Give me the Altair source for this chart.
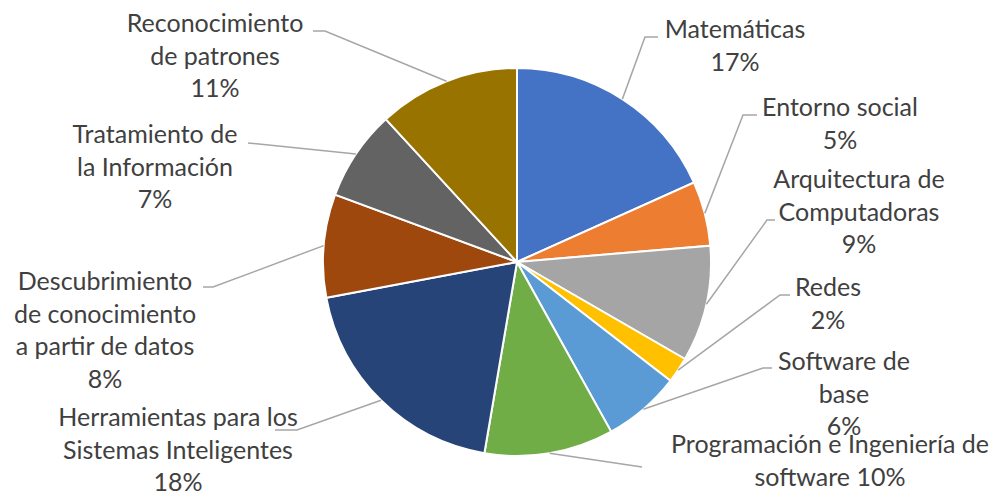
import math
import altair as alt
import pandas as pd

# ---------------- data ----------------
categories = [
    "Matemáticas",
    "Entorno social",
    "Arquitectura de Computadoras",
    "Redes",
    "Software de base",
    "Programación e Ingeniería de software",
    "Herramientas para los Sistemas Inteligentes",
    "Descubrimiento de conocimiento a partir de datos",
    "Tratamiento de la Información",
    "Reconocimiento de patrones",
]
values = [17, 5, 9, 2, 6, 10, 18, 8, 7, 11]
label_templates = [
    ["Matemáticas", "{p}%"],
    ["Entorno social", "{p}%"],
    ["Arquitectura de", "Computadoras", "{p}%"],
    ["Redes", "{p}%"],
    ["Software de", "base", "{p}%"],
    ["Programación e Ingeniería de", "software {p}%"],
    ["Herramientas para los", "Sistemas Inteligentes", "{p}%"],
    ["Descubrimiento", "de conocimiento", "a partir de datos", "{p}%"],
    ["Tratamiento de", "la Información", "{p}%"],
    ["Reconocimiento", "de patrones", "{p}%"],
]
colors = ["#4472C4", "#ED7D31", "#A5A5A5", "#FFC000", "#5B9BD5",
          "#70AD47", "#264478", "#9E480E", "#636363", "#997300"]

# ---------------- layout (page coordinates) ----------------
W, H = 983, 484
OFF = 8
CX, CY, R = 517, 262, 194
LINE_H = 32.5
FONT = "Lato"
FONT_SIZE = 25
label_anchor = [(735, 30), (840, 108), (859, 180), (828, 288), (844, 362),
                (830, 445), (178, 418), (105, 282), (155, 135), (215, 24)]
leader_bend = [
    [(645, 37), (658, 37)],
    [(743, 115), (757, 115)],
    [(767, 220), (775, 220)],
    [(780, 295), (790, 295)],
    [(763, 368), (772, 368)],
    [(642, 467)],
    [(297, 430), (275, 430)],
    [(213, 287), (203, 287)],
    [(248, 143)],
    [(325, 31), (313, 31)],
]

# ---------------- tables ----------------
pie_df = pd.DataFrame({"cat": categories, "value": values, "idx": range(len(values))})

total = sum(values)
lead_rows = []
cum = 0
for i, (c, v) in enumerate(zip(categories, values)):
    mid = (cum + v / 2) / total * 2 * math.pi
    cum += v
    ax = CX + R * math.sin(mid)
    ay = CY - R * math.cos(mid)
    pts = [(ax, ay)] + leader_bend[i]
    for k, (px, py) in enumerate(pts):
        lead_rows.append({"cat": c, "pt": k, "x": px, "y": py})
lead_df = pd.DataFrame(lead_rows)

text_rows = []
for i, (tmpl, v) in enumerate(zip(label_templates, values)):
    x0, y0 = label_anchor[i]
    for k, line in enumerate(tmpl):
        text_rows.append({"cat": categories[i], "x": x0, "y": y0 + k * LINE_H,
                          "txt": line.format(p=v)})
text_df = pd.DataFrame(text_rows)

xs = alt.Scale(domain=[OFF, OFF + W], nice=False, zero=False)
ys = alt.Scale(domain=[OFF, OFF + H], reverse=True, nice=False, zero=False)

pie = alt.Chart(pie_df).mark_arc(outerRadius=R, stroke="white", strokeWidth=2).encode(
    theta=alt.Theta("value:Q", stack=True),
    order=alt.Order("idx:Q", sort="ascending"),
    color=alt.Color("cat:N", scale=alt.Scale(domain=categories, range=colors), legend=None),
    x=alt.value(CX - OFF),
    y=alt.value(CY - OFF),
)

leaders = alt.Chart(lead_df).mark_line(color="#A6A6A6", strokeWidth=1.5).encode(
    x=alt.X("x:Q", scale=xs, axis=None),
    y=alt.Y("y:Q", scale=ys, axis=None),
    detail="cat:N",
    order="pt:Q",
)

labels = alt.Chart(text_df).mark_text(
    align="center", baseline="middle", font=FONT, fontSize=FONT_SIZE, color="#404040"
).encode(
    x=alt.X("x:Q", scale=xs, axis=None),
    y=alt.Y("y:Q", scale=ys, axis=None),
    text="txt:N",
)

chart = alt.layer(pie, leaders, labels).properties(
    width=W, height=H, padding=0, autosize=alt.AutoSizeParams(type="none"),
    background="white",
).configure_view(stroke=None)

chart.save("out.html", embed_options={"renderer": "svg", "actions": False})
